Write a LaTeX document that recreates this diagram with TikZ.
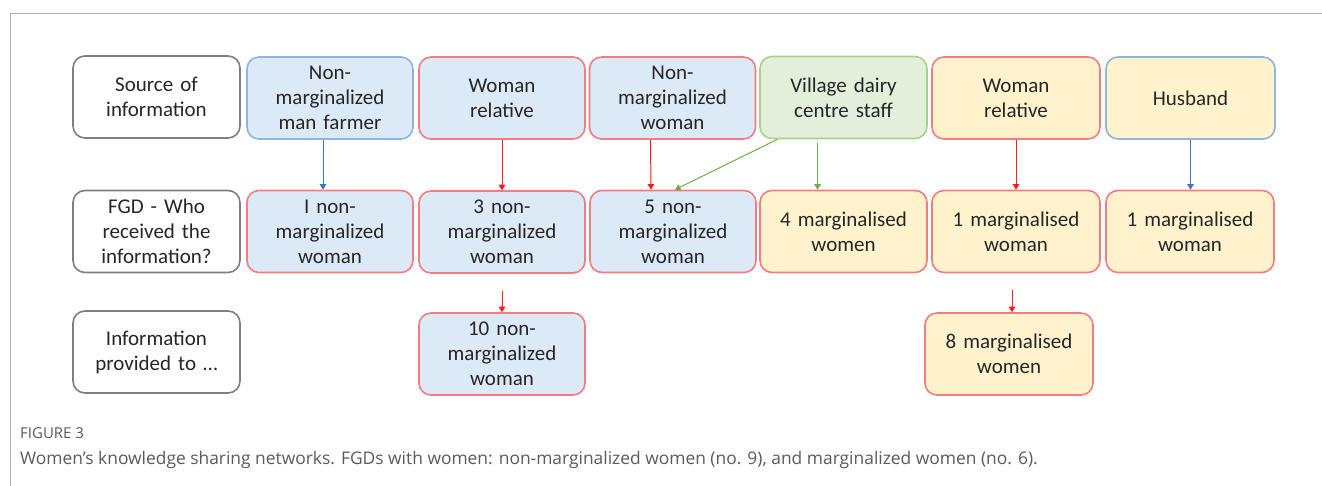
\documentclass[tikz,border=0pt]{standalone}
\usepackage{fontspec}
\setmainfont{Carlito}
\newfontfamily\capfont{Open Sans}
\usetikzlibrary{arrows.meta}
\definecolor{txt}{HTML}{262626}
\definecolor{bluefill}{HTML}{DCE9F6}
\definecolor{blueedge}{HTML}{8FB4E0}
\definecolor{rededge}{HTML}{F47C80}
\definecolor{greenfill}{HTML}{E2EFDA}
\definecolor{greenedge}{HTML}{A9D18E}
\definecolor{yellowfill}{HTML}{FFF2CC}
\definecolor{grayedge}{HTML}{7F7F7F}
\definecolor{bluearrow}{HTML}{4472C4}
\definecolor{redarrow}{HTML}{FF1A1A}
\definecolor{greenarrow}{HTML}{70AD47}
\definecolor{framegray}{HTML}{B0B0B0}
\definecolor{capgray}{HTML}{5A5A5A}
\tikzset{
  x=1pt, y=-1pt,
  box/.style={rounded corners=12pt, line width=1.6pt, minimum height=82pt,
    text width=160pt, align=center, inner sep=0pt, text=txt,
    font=\fontsize{21}{25}\selectfont},
  labelbox/.style={box, draw=grayedge, fill=white, minimum width=167pt},
  bb/.style={box, draw=blueedge, fill=bluefill, minimum width=166pt},
  rb/.style={box, draw=rededge, fill=bluefill, minimum width=166pt},
  gb/.style={box, draw=greenedge, fill=greenfill, minimum width=167pt},
  ry/.style={box, draw=rededge, fill=yellowfill, minimum width=168pt},
  by/.style={box, draw=blueedge, fill=yellowfill, minimum width=169pt},
  link/.style={line width=1pt, -{Triangle[width=6.5pt,length=5.5pt]}},
}
\begin{document}
\begin{tikzpicture}
\useasboundingbox (0,0) rectangle (1322,486);
% panel frame
\draw[framegray, line width=1pt] (10,486) -- (10,14) -- (1322,14);

% row 1: sources
\node[labelbox] (l1) at (156.5,97) {Source of\\information};
\node[bb] (s1) at (330,98) {Non-\\marginalized\\man farmer};
\node[rb] (s2) at (502,98) {Woman\\relative};
\node[rb] (s3) at (672.5,98) {Non-\\marginalized\\woman};
\node[gb] (s4) at (843.5,97.5) {Village dairy\\centre staff};
\node[ry] (s5) at (1016,98) {Woman\\relative};
\node[by] (s6) at (1190.5,98) {Husband};

% row 2: FGD recipients
\node[labelbox] (l2) at (156.5,231.5) {FGD - Who\\received the\\information?};
\node[rb] (r1) at (330,231.5) {I non-\\marginalized\\woman};
\node[rb] (r2) at (502,232) {3 non-\\marginalized\\woman};
\node[rb] (r3) at (673,231.5) {5 non-\\marginalized\\woman};
\node[ry, minimum width=167pt] (r4) at (843.5,231.5) {4 marginalised\\women};
\node[ry] (r5) at (1016,231.5) {1 marginalised\\woman};
\node[ry] (r6) at (1190,231.5) {1 marginalised\\woman};

% row 3: onward sharing
\node[labelbox] (l3) at (156.5,352) {Information\\provided to \dots};
\node[rb] (t1) at (502,354) {10 non-\\marginalized\\woman};
\node[ry] (t2) at (1009,354) {8 marginalised\\women};

% connectors
\draw[link, bluearrow] ([xshift=-7pt]s1.south) -- ([xshift=-7pt]r1.north);
\draw[link, redarrow] (s2.south) -- (r2.north);
\draw[link, redarrow] ([xshift=-22pt]s3.south) -- ([xshift=-22pt]r3.north);
\draw[link, greenarrow] ([xshift=-66pt]s4.south) -- ([xshift=2pt]r3.north);
\draw[link, greenarrow] ([xshift=-26pt,yshift=-4pt]s4.south) -- ([xshift=-26pt]r4.north);
\draw[link, redarrow] (s5.south) -- (r5.north);
\draw[link, bluearrow] (s6.south) -- ([xshift=0.5pt]r6.north);
\draw[link, redarrow] ([yshift=-17pt]r2.south) -- (t1.north);
\draw[link, redarrow] ([xshift=-4pt,yshift=-17pt]r5.south) -- ([xshift=3pt]t2.north);

% caption
\node[anchor=west, inner sep=0pt, text=capgray, font=\capfont\fontsize{15}{17}\selectfont] (fig) at (20,433) {FIGURE 3};
\node[anchor=west, inner sep=0pt, text=capgray, font=\capfont\fontsize{17.4}{20}\selectfont] (cap) at (20,460) {Women’s knowledge sharing networks. FGDs with women: non-marginalized women (no. 9), and marginalized women (no. 6).};
\end{tikzpicture}
\end{document}
